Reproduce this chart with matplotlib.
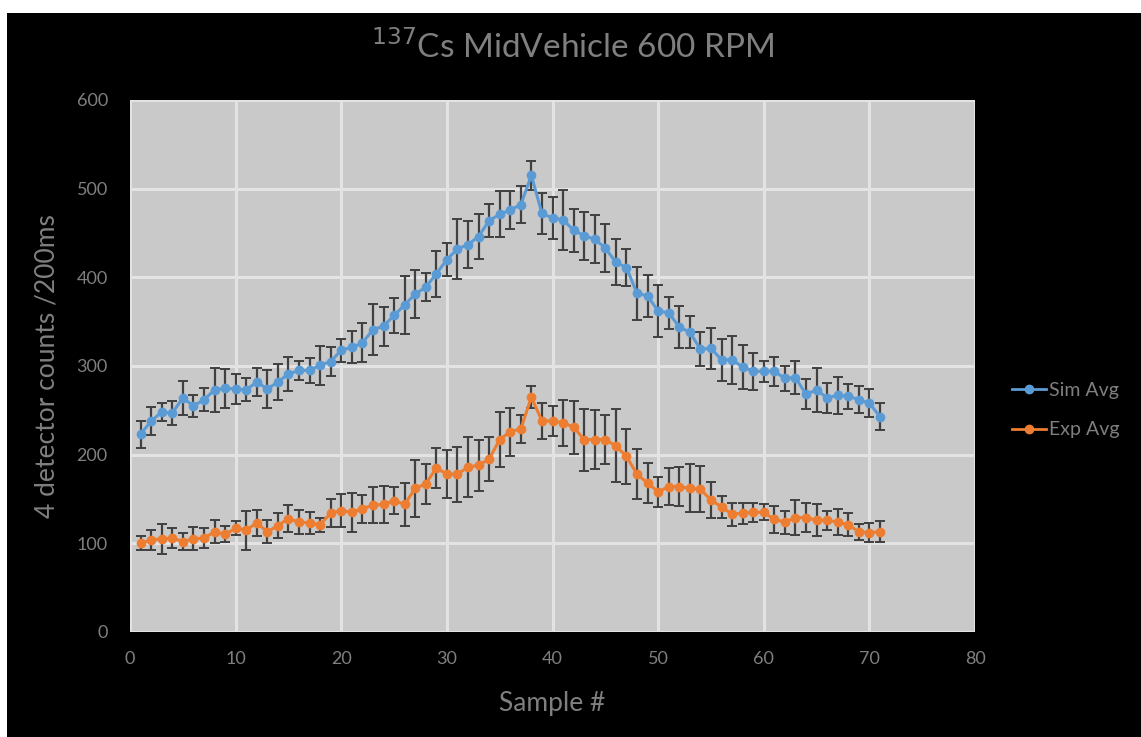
import numpy as np
import matplotlib
matplotlib.use("Agg")
import matplotlib.pyplot as plt
from matplotlib.patches import Rectangle
from matplotlib.lines import Line2D

# sample numbers 1..71
samples = list(range(1, 72))

sim_avg = [223, 238, 248, 247, 264, 255, 262, 273, 275, 274,
           273, 282, 274, 282, 291, 295, 295, 301, 305, 318,
           321, 326, 341, 345, 357, 369, 381, 389, 404, 420,
           432, 437, 446, 464, 471, 476, 482, 515, 472, 467,
           465, 453, 447, 443, 433, 417, 411, 382, 379, 362,
           360, 344, 338, 319, 320, 307, 307, 299, 294, 294,
           294, 286, 287, 268, 273, 264, 267, 266, 262, 258,
           243]
sim_err = [15, 16, 10, 14, 19, 12, 13, 25, 22, 17,
           13, 16, 21, 20, 19, 11, 14, 22, 16, 13,
           18, 22, 29, 22, 20, 33, 27, 16, 26, 19,
           34, 27, 25, 19, 26, 21, 21, 16, 23, 24,
           34, 24, 27, 27, 27, 26, 21, 30, 24, 29,
           18, 24, 18, 19, 23, 24, 27, 25, 21, 12,
           16, 14, 19, 17, 25, 17, 21, 14, 15, 16,
           15]

exp_avg = [100, 104, 105, 106, 102, 105, 106, 113, 110, 117,
           115, 123, 113, 120, 128, 124, 123, 121, 134, 137,
           135, 139, 143, 144, 148, 144, 162, 167, 185, 178,
           178, 186, 188, 195, 217, 226, 229, 265, 238, 238,
           236, 231, 217, 217, 217, 210, 198, 178, 168, 158,
           164, 164, 162, 161, 149, 141, 133, 134, 135, 135,
           127, 124, 129, 129, 126, 126, 124, 121, 113, 112,
           113]
exp_err = [8, 11, 17, 11, 10, 13, 11, 13, 9, 8,
           22, 15, 13, 14, 15, 14, 12, 8, 16, 19,
           22, 16, 20, 21, 15, 24, 32, 23, 23, 27,
           31, 34, 29, 25, 31, 27, 16, 12, 20, 17,
           26, 30, 35, 33, 28, 41, 31, 28, 23, 17,
           21, 22, 27, 26, 20, 12, 13, 12, 11, 9,
           15, 13, 20, 16, 18, 11, 15, 13, 9, 11,
           12]

x_ticks = [0, 10, 20, 30, 40, 50, 60, 70, 80]
y_ticks = [0, 100, 200, 300, 400, 500, 600]

sim_color = "#5b9bd5"
exp_color = "#ed7d31"
text_gray = "#7f7f7f"
font = ["Lato", "DejaVu Sans"]

fig = plt.figure(figsize=(11.41, 7.37), dpi=100, facecolor="white")
# black chart background, leaving a thin white margin top and left
fig.patches.append(Rectangle((7 / 1141, 0), 1 - 7 / 1141, 1 - 13 / 737,
                             transform=fig.transFigure, facecolor="black",
                             edgecolor="none", zorder=-1))

ax = fig.add_axes([130 / 1141, 1 - 632 / 737, 845 / 1141, 532 / 737])
ax.set_facecolor("#c9c9c9")

ax.errorbar(samples, sim_avg, yerr=sim_err, color=sim_color, lw=2.2,
            marker="o", ms=6, ecolor="#404040", elinewidth=1.6, capsize=3.5,
            capthick=1.4, zorder=3)
ax.errorbar(samples, exp_avg, yerr=exp_err, color=exp_color, lw=2.2,
            marker="o", ms=6, ecolor="#404040", elinewidth=1.6, capsize=3.5,
            capthick=1.4, zorder=3)

ax.set_xlim(0, 80)
ax.set_ylim(0, 600)
ax.set_xticks(x_ticks)
ax.set_yticks(y_ticks)
ax.grid(True, color="#e3e3e3", lw=2.2)
ax.set_axisbelow(True)
for s in ax.spines.values():
    s.set_visible(False)
ax.tick_params(axis="y", length=0, colors=text_gray, labelsize=13, pad=16)
ax.tick_params(axis="x", length=0, colors=text_gray, labelsize=13, pad=14)
for lbl in ax.get_xticklabels() + ax.get_yticklabels():
    lbl.set_family(font)

ax.set_xlabel("Sample #", color=text_gray, fontsize=19, family=font,
              labelpad=17)
ax.set_ylabel("4 detector counts /200ms", color=text_gray, fontsize=19,
              family=font, labelpad=12)

fig.text(0.502, 1 - 47 / 737, r"$^{137}$Cs MidVehicle 600 RPM",
         ha="center", va="center", color=text_gray, fontsize=24,
         family=font)

handles = [Line2D([], [], color=sim_color, lw=2, marker="o", ms=6),
           Line2D([], [], color=exp_color, lw=2, marker="o", ms=6)]
leg = ax.legend(handles, ["Sim Avg", "Exp Avg"], loc="center left",
                bbox_to_anchor=(1.035, 0.417), borderaxespad=0,
                frameon=False, handlelength=1.75, handletextpad=0.15,
                labelspacing=1.15, prop={"family": font, "size": 14})
for t in leg.get_texts():
    t.set_color(text_gray)

fig.savefig("out.png", dpi=100, facecolor=fig.get_facecolor())
